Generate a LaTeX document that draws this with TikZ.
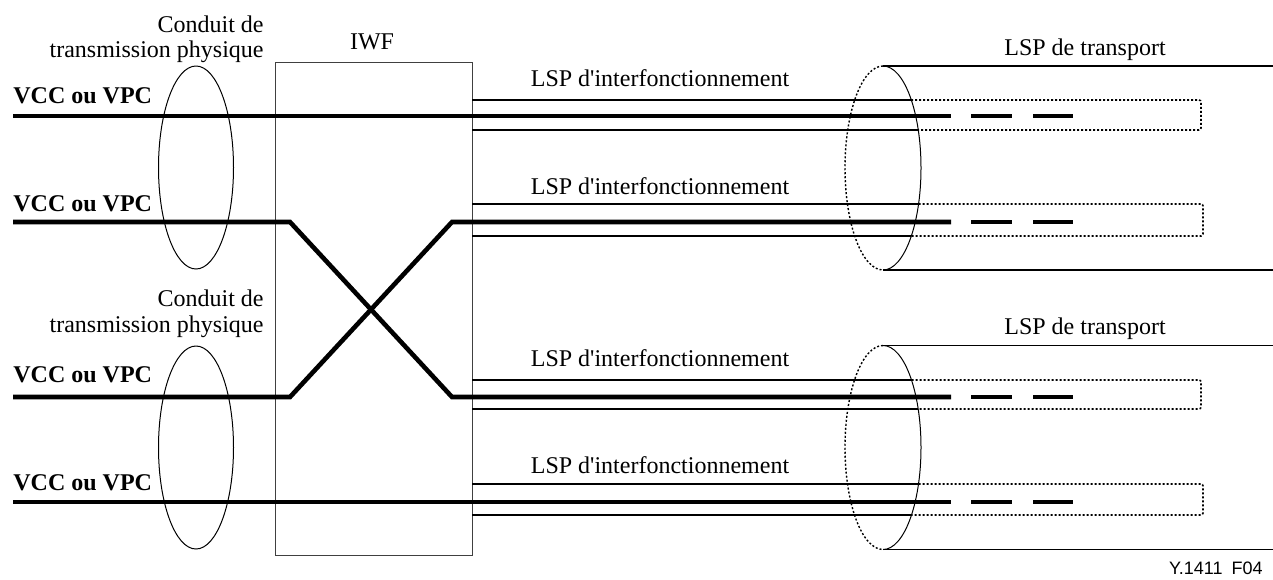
\documentclass[tikz,border=0pt]{standalone}
\usepackage{fontspec}
\setmainfont{Liberation Serif}[Ligatures=TeXOff]
\newfontfamily\capfont{Liberation Sans}
\begin{document}
\begin{tikzpicture}[x=0.5pt,y=-0.5pt,
  lbl/.style={font=\fontsize{12pt}{13pt}\selectfont, inner sep=0pt},
  vcclbl/.style={font=\fontsize{12pt}{13pt}\selectfont\bfseries, inner sep=0pt, anchor=base west},
  thick line/.style={line width=2.3pt},
  thin line/.style={line width=0.6pt},
  dotline/.style={line width=0.8pt, dash pattern=on 1pt off 1pt, rounded corners=1pt},
  conduit/.style={line width=0.5pt}
]
\useasboundingbox (0,0) rectangle (1273,579);

% IWF box
\draw[line width=0.5pt, draw=black!75] (275,62) rectangle (472,555);
\node[lbl, anchor=base] (iwf) at (372,49) {IWF};

% Conduit labels
\node[lbl, anchor=base east] (c1a) at (264,32) {Conduit de};
\node[lbl, anchor=base east] (c1b) at (264,57) {transmission physique};
\node[lbl, anchor=base east] (c2a) at (264,306) {Conduit de};
\node[lbl, anchor=base east] (c2b) at (264,332) {transmission physique};

% physical ellipses
\draw[conduit] (196,167.5) ellipse [x radius=37.5, y radius=101.5];
\draw[conduit] (196,447.5) ellipse [x radius=37.5, y radius=101.5];

% VCC labels
\node[vcclbl] (v1) at (13,103) {VCC ou VPC};
\node[vcclbl] (v2) at (13,211) {VCC ou VPC};
\node[vcclbl] (v3) at (13,382) {VCC ou VPC};
\node[vcclbl] (v4) at (13,490) {VCC ou VPC};

% LSP d'interfonctionnement labels
\node[lbl, anchor=base] (l1) at (660,86) {LSP d'interfonctionnement};
\node[lbl, anchor=base] (l2) at (660,194) {LSP d'interfonctionnement};
\node[lbl, anchor=base] (l3) at (660,366) {LSP d'interfonctionnement};
\node[lbl, anchor=base] (l4) at (660,473) {LSP d'interfonctionnement};

% LSP de transport labels
\node[lbl, anchor=base] (t1) at (1085,55) {LSP de transport};
\node[lbl, anchor=base] (t2) at (1085,334) {LSP de transport};

% figure id
\node[font=\capfont\fontsize{9pt}{10pt}\selectfont, inner sep=0pt, anchor=base east] (fid) at (1263,574) {Y.1411\enspace F04};

% transport tubes
\foreach \cy in {168,447.5}{
  \draw[thin line] (883,\cy-102) -- (1273,\cy-102);
  \draw[thin line] (883,\cy+102) -- (1273,\cy+102);
  \draw[conduit] (883,\cy-102) arc[start angle=-90, end angle=90, x radius=38, y radius=102];
  \draw[line width=0.7pt, dash pattern=on 1pt off 1pt] (883,\cy-102) arc[start angle=-90, end angle=-270, x radius=38, y radius=102];
}

% interworking LSP thin lines (solid part + dotted part)
\foreach \ya/\xa/\yb/\xb/\xr in {100/911/130/918/1201, 204/918.5/236/911.3/1203, 380/911.5/409/918/1201, 484/918.5/515/911.5/1203}{
  \draw[thin line] (472,\ya) -- (\xa,\ya);
  \draw[thin line] (472,\yb) -- (\xb,\yb);
  \draw[dotline] (\xa,\ya) -- (\xr,\ya) -- (\xr,\yb) -- (\xb,\yb);
}

% VCC/VPC thick lines
\coordinate (s1) at (13,116);
\coordinate (s2) at (13,222);
\coordinate (s3) at (13,397);
\coordinate (s4) at (13,502);
\coordinate (e1) at (951,116);
\coordinate (e2) at (951,222);
\coordinate (e3) at (951,397);
\coordinate (e4) at (951,502);
\draw[thick line] (s1) -- (e1);
\draw[thick line] (s4) -- (e4);
\draw[thick line, line join=miter] (s2) -- (290,222) -- (452,397) -- (e3);
\draw[thick line, line join=miter] (s3) -- (290,397) -- (452,222) -- (e2);

% dashed continuation
\foreach \y in {116,222,397,502}{
  \draw[line width=2.3pt] (971,\y) -- (1012,\y);
  \draw[line width=2.3pt] (1033,\y) -- (1073,\y);
}
\end{tikzpicture}
\end{document}
